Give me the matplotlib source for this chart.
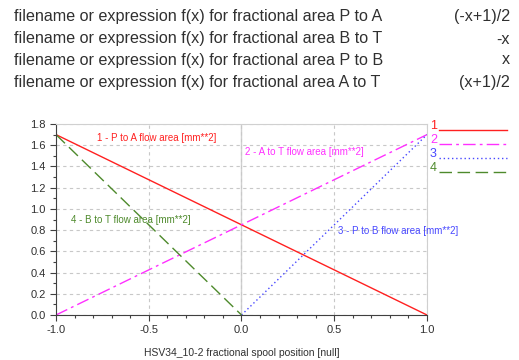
import matplotlib
matplotlib.use("Agg")
import matplotlib.pyplot as plt
from matplotlib.lines import Line2D
from matplotlib.ticker import MultipleLocator

plt.rcParams['font.family'] = ['Liberation Sans', 'DejaVu Sans']

# header rows: description and expression
header_labels = [
    "filename or expression f(x) for fractional area P to A",
    "filename or expression f(x) for fractional area B to T",
    "filename or expression f(x) for fractional area P to B",
    "filename or expression f(x) for fractional area A to T",
]
header_values = ["(-x+1)/2", "-x", "x", "(x+1)/2"]

# spool position and flow areas [mm**2]
spool_pos = [-1.0, 0.0, 1.0]
p_to_a = [1.7, 0.85, 0.0]
a_to_t = [0.0, 0.85, 1.7]
p_to_b = [0.0, 0.0, 1.7]
b_to_t = [1.7, 0.0, 0.0]

series_names = ["1 - P to A flow area [mm**2]", "2 - A to T flow area [mm**2]",
                "3 - P to B flow area [mm**2]", "4 - B to T flow area [mm**2]"]
legend_ids = ["1", "2", "3", "4"]
colors = ["#ff2020", "#ff30ff", "#4848ff", "#4e8a2c"]
styles = ["-", (0, (9, 3, 2, 3)), (0, (1, 2)), (0, (9, 4))]

W, H = 519, 360
fig = plt.figure(figsize=(W / 100, H / 100), dpi=100)

text_col = "#303030"
row_y = [17, 39, 60, 82]
for lab, val, yy in zip(header_labels, header_values, row_y):
    fig.text(14 / W, 1 - yy / H, lab, fontsize=11.6, color=text_col, va="center", ha="left")
    fig.text(510 / W, 1 - yy / H, val, fontsize=11.6, color=text_col, va="center", ha="right")

left, right, top, bottom = 56, 427, 124, 315
ax = fig.add_axes([left / W, 1 - bottom / H, (right - left) / W, (bottom - top) / H])

ax.plot(spool_pos, p_to_a, color=colors[0], ls=styles[0], lw=1)
ax.plot(spool_pos, a_to_t, color=colors[1], ls=styles[1], lw=1)
ax.plot(spool_pos[1:], p_to_b[1:], color=colors[2], ls=styles[2], lw=1)
ax.plot(spool_pos[:2], b_to_t[:2], color=colors[3], ls=styles[3], lw=1)

ax.set_xlim(-1, 1)
ax.set_ylim(0, 1.8)
ax.xaxis.set_major_locator(MultipleLocator(0.5))
ax.xaxis.set_minor_locator(MultipleLocator(0.1))
ax.yaxis.set_major_locator(MultipleLocator(0.2))
ax.yaxis.set_minor_locator(MultipleLocator(0.1))
ax.xaxis.set_major_formatter(plt.FuncFormatter(lambda v, p: f"{v:.1f}"))
ax.yaxis.set_major_formatter(plt.FuncFormatter(lambda v, p: f"{v:.1f}"))

ax.tick_params(which="major", length=4, width=0.8, labelsize=8, colors="#404040", labelcolor=text_col)
ax.tick_params(which="minor", length=2, width=0.8, colors="#404040")
ax.grid(True, axis="y", which="major", color="#c8c8c8", ls=(0, (3, 3)), lw=0.8)
ax.grid(True, axis="x", which="major", color="#c8c8c8", ls=(0, (3, 3)), lw=0.8)
ax.axvline(0, color="#d0d0d0", lw=1, zorder=0)

for s in ("top", "right"):
    ax.spines[s].set_color("#d0d0d0")
for s in ("left", "bottom"):
    ax.spines[s].set_color("#404040")
    ax.spines[s].set_linewidth(0.8)

ax.set_xlabel("HSV34_10-2 fractional spool position [null]", fontsize=7.5, color=text_col, labelpad=9)

# in-plot series labels
ax.text(-0.78, 1.67, series_names[0], color=colors[0], fontsize=7, va="center")
ax.text(0.02, 1.54, series_names[1], color=colors[1], fontsize=7, va="center")
ax.text(0.52, 0.79, series_names[2], color=colors[2], fontsize=7, va="center")
ax.text(-0.92, 0.895, series_names[3], color=colors[3], fontsize=7, va="center")

# legend on the right
leg_y = [130, 144, 158, 172]
for lid, c, st, yy in zip(legend_ids, colors, styles, leg_y):
    fig.text(430 / W, 1 - (yy - 4) / H, lid, color=c, fontsize=9, va="center")
    fig.add_artist(Line2D([439 / W, 507 / W], [1 - yy / H, 1 - yy / H], color=c, ls=st, lw=1,
                          transform=fig.transFigure))

fig.savefig("out.png", dpi=100)
